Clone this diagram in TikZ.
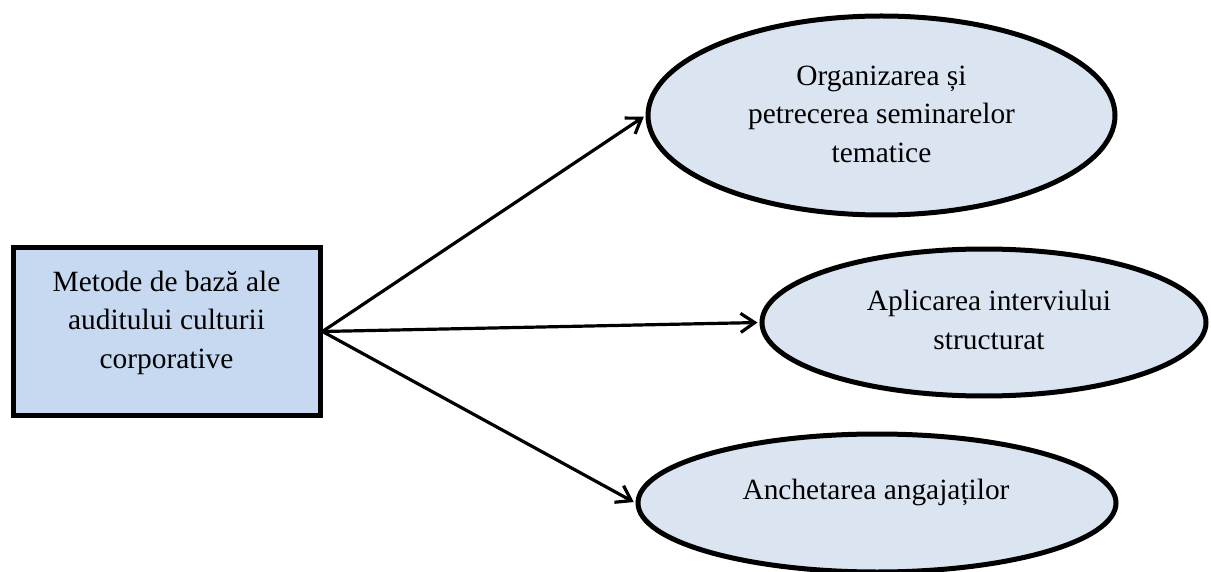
\documentclass[tikz,border=0pt]{standalone}
\usepackage{fontspec}
\setmainfont{Liberation Serif}
\usetikzlibrary{shapes.geometric,arrows.meta}
\definecolor{rectfill}{HTML}{C6D9F1}
\definecolor{ellfill}{HTML}{DBE5F1}
\begin{document}
\begin{tikzpicture}[x=1pt,y=-1pt,
  boxnode/.style={draw=black,line width=5pt,fill=rectfill,rectangle,inner sep=0pt},
  ellnode/.style={draw=black,line width=5pt,fill=ellfill,ellipse,inner sep=0pt},
  txt/.style={font=\fontsize{29.4}{38.5}\selectfont,align=center,inner sep=0pt},
  conn/.style={line width=3.2pt,-{Straight Barb[length=14pt,width=19pt,line width=3.2pt]},shorten >=2pt}
]
\useasboundingbox (0,0) rectangle (1211,572);
\node[boxnode,minimum width=307pt,minimum height=167pt] (src) at (166.5,331.5) {};
\node[txt] (srct) at (166.5,322.5) {Metode de bază ale\\auditului culturii\\corporative};
\node[ellnode,minimum width=467pt,minimum height=199pt] (e1) at (881.5,115.5) {};
\node[txt] (e1t) at (881.5,114) {Organizarea și\\petrecerea seminarelor\\tematice};
\node[ellnode,minimum width=444pt,minimum height=147pt] (e2) at (984,322.5) {};
\node[txt] (e2t) at (989,320) {Aplicarea interviului\\structurat};
\node[ellnode,minimum width=478pt,minimum height=138pt] (e3) at (877,503) {};
\node[txt] (e3t) at (876,492) {Anchetarea angajaților};
\draw[conn] (src.east) -- (e1.west);
\draw[conn] (src.east) -- (e2.west);
\draw[conn] (src.east) -- (e3.west);
\end{tikzpicture}
\end{document}
